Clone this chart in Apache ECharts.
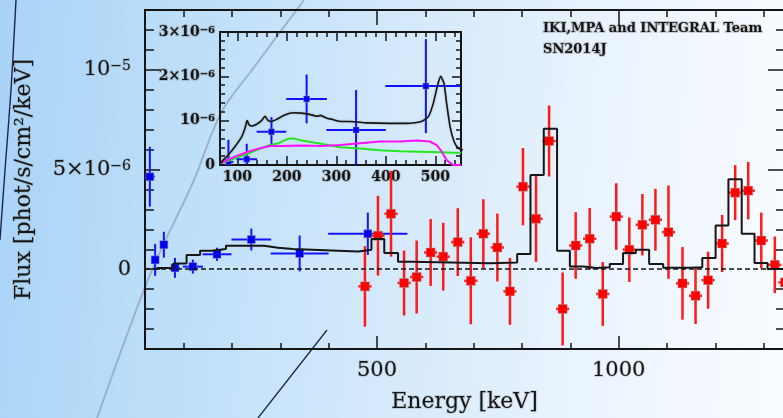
<!DOCTYPE html>
<html>
<head>
<meta charset="utf-8">
<script src="https://cdn.jsdelivr.net/npm/echarts/dist/echarts.min.js"></script>
<style>
  html, body { margin: 0; padding: 0; }
  #chart {
    width: 783px; height: 418px;
    background: linear-gradient(95deg, #a9d3f6 0%, #bcdef9 22%, #d4e9fb 50%, #eaf4fd 75%, #f9fcff 100%);
  }
</style>
</head>
<body>
<div id="chart"></div>
<script>
// SN2014J gamma-ray spectrum, fluxes in units of 1e-6 phot/s/cm2/keV

// low-energy points (blue): energy, flux, half-width, 1-sigma error
const blueEnergy = [30, 41, 59, 82, 119, 169, 240, 340, 481];
const blueFlux   = [4.64, 0.47, 1.23, 0.07, 0.13, 0.75, 1.49, 0.79, 1.78];
const blueWidth  = [10, 4, 5, 10, 21, 30, 41, 60, 82];
const blueError  = [1.5, 0.8, 0.65, 0.5, 0.35, 0.33, 0.55, 0.9, 1.06];

// high-energy points (red)
const redEnergy = [475, 502, 529, 556, 582, 611, 637, 667, 694, 720, 749, 775, 802, 829, 856, 884,
                   911, 940, 967, 995, 1022, 1049, 1076, 1103, 1132, 1159, 1185, 1214, 1241, 1268,
                   1295, 1323, 1344];
const redFlux   = [-0.86, 1.68, 2.78, -0.69, -0.39, 0.84, 0.63, 1.36, -0.58, 1.78, 1.09, -1.11, 4.14,
                   2.53, 6.43, -1.99, 1.19, 1.53, -1.24, 2.64, 0.98, 2.23, 2.48, 1.86, -0.71, -1.33,
                   -0.55, 1.29, 3.84, 3.94, 1.44, 0.22, -0.66];
const redError  = [2.02, 2.0, 2.15, 1.63, 1.83, 1.68, 1.7, 1.7, 2.18, 1.73, 1.7, 1.68, 1.94, 2.16,
                   1.78, 1.83, 1.67, 1.54, 1.6, 1.67, 1.62, 1.54, 1.55, 2.34, 1.82, 1.42, 1.43, 1.43,
                   1.38, 1.44, 1.4, 1.42, 3.0];
const redWidth = 13.6;

// binned model (histogram): bin edges and level in each bin
const modelEdges  = [44, 78.5, 106, 134, 158, 187.5, 266, 295.5, 325.5, 406, 461, 488.5, 515, 543.5,
                     571, 733.5, 790, 817.5, 845, 872.5, 899, 926.5, 954, 981.5, 1009, 1035.5, 1063,
                     1092, 1147, 1173, 1200.5, 1227, 1254.5, 1281, 1308, 1342];
const modelLevels = [0.06, 0.29, 0.72, 0.93, 1.01, 1.18, 1.08, 1.01, 0.94, 0.89, 0.98, 1.51, 0.81,
                     0.38, 0.30, 0.34, 0.77, 4.72, 7.04, 0.93, 0.14, 0.06, 0.10, 0.26, 0.81, 0.98,
                     0.26, 0.08, 0.10, 0.56, 2.19, 4.51, 1.78, 0.31, 0.01];

// inset model curves
const totalEnergy = [66, 68, 82, 95, 109, 115.5, 120, 124, 129, 139, 149, 156, 161, 168, 179.5, 196,
                     213, 230, 250, 262, 268, 280, 291, 311, 328, 361, 408, 442, 472, 486, 496, 504,
                     511, 517.6, 523, 530, 538, 546.5, 556];
const totalFlux   = [0.03, 0.07, 0.23, 0.41, 0.64, 0.83, 1.0, 0.90, 0.88, 0.92, 1.0, 1.1, 1.02, 0.98,
                     1.03, 1.13, 1.18, 1.17, 1.13, 1.10, 1.12, 1.06, 1.03, 0.98, 0.98, 0.95, 0.94,
                     0.94, 0.98, 1.09, 1.39, 1.77, 2.0, 1.84, 1.39, 0.86, 0.53, 0.38, 0.34];
const greenEnergy = [66, 95, 122, 149, 166, 183, 196, 206, 213, 227, 257, 284, 308, 348, 388, 429,
                     469, 510, 552];
const greenFlux   = [0.03, 0.15, 0.26, 0.38, 0.45, 0.49, 0.56, 0.6, 0.6, 0.56, 0.5, 0.45, 0.4, 0.37,
                     0.33, 0.31, 0.3, 0.29, 0.27];
const pinkEnergy  = [66, 95, 122, 146, 166, 190, 230, 270, 308, 348, 388, 429, 462, 489, 503, 513,
                     523, 536, 552];
const pinkFlux    = [0.04, 0.19, 0.3, 0.38, 0.43, 0.43, 0.44, 0.43, 0.45, 0.49, 0.53, 0.53, 0.55,
                     0.53, 0.45, 0.3, 0.11, 0.0, 0.0];

// tick labels
const mainEnergyTicks  = [500, 1000];
const mainFluxTicks    = [0, 5, 10];
const mainFluxBase     = ['0', '5×10', '10'];
const mainFluxExp      = ['', '−6', '−5'];
const insetEnergyTicks = [100, 200, 300, 400, 500];
const insetFluxTicks   = [0, 1, 2, 3];
const insetFluxBase    = ['0', '10', '2×10', '3×10'];
const insetFluxExp     = ['', '−6', '−6', '−6'];

const SERIF = '"DejaVu Serif", "Liberation Serif", serif';
const INK = '#151515';
const HALO = 'rgba(120,120,120,0.35)';

function zip4(a, b, c, d) {
  return a.map((v, i) => [v, b[i], Array.isArray(c) ? c[i] : c, d[i]]);
}
function pairs(a, b) { return a.map((v, i) => [v, b[i]]); }
function steps(edges, levels) {
  const pts = [];
  levels.forEach((lv, i) => { pts.push([edges[i], lv]); pts.push([edges[i + 1], lv]); });
  return pts;
}

function errorBars(barColor, fillColor, barWidth, size) {
  return function (params, api) {
    const x = api.value(0), y = api.value(1), dx = api.value(2), dy = api.value(3);
    const c = api.coord([x, y]);
    const l = api.coord([x - dx, y]), r = api.coord([x + dx, y]);
    const t = api.coord([x, y + dy]), b = api.coord([x, y - dy]);
    return {
      type: 'group',
      children: [
        { type: 'line', shape: { x1: l[0], y1: l[1], x2: r[0], y2: r[1] },
          style: { stroke: barColor, lineWidth: barWidth } },
        { type: 'line', shape: { x1: t[0], y1: t[1], x2: b[0], y2: b[1] },
          style: { stroke: barColor, lineWidth: barWidth } },
        { type: 'rect', shape: { x: c[0] - size / 2, y: c[1] - size / 2, width: size, height: size },
          style: { fill: fillColor, stroke: 'rgba(150,150,150,0.45)', lineWidth: 1 } }
      ]
    };
  };
}

function supLabel(ticks, base, exp) {
  return function (v) {
    const i = ticks.findIndex(t => Math.abs(t - v) < 1e-9);
    if (i < 0) return '';
    return exp[i] ? '{n|' + base[i] + '}{e|' + exp[i] + '}' : '{n|' + base[i] + '}';
  };
}

const mainRect  = { left: 145, top: 10, width: 639, height: 339, show: false, containLabel: false, outerBoundsMode: 'none' };
const insetRect = { left: 220, top: 32, width: 241, height: 133, show: false, containLabel: false, outerBoundsMode: 'none' };

function frameAxis(extra, lineWidth, tickLen) {
  return Object.assign({
    type: 'value',
    axisLine: { show: true, onZero: false, lineStyle: { color: INK, width: lineWidth } },
    axisTick: { show: true, inside: true, length: tickLen, lineStyle: { color: INK, width: 1.5 } },
    axisLabel: { show: false },
    splitLine: { show: false },
    nameMoveOverlap: false
  }, extra);
}

const mainLabel = {
  show: true, color: INK, fontFamily: SERIF, fontSize: 21,
  textBorderColor: HALO, textBorderWidth: 1.5
};
const insetLabel = {
  show: true, color: INK, fontFamily: SERIF, fontSize: 14, fontWeight: 'bold',
  textBorderColor: HALO, textBorderWidth: 2
};

const option = {
  animation: false,
  backgroundColor: 'transparent',
  grid: [mainRect, Object.assign({}, mainRect), insetRect, Object.assign({}, insetRect)],
  xAxis: [
    frameAxis({ gridIndex: 0, position: 'bottom', min: 20, max: 1342, splitNumber: 13 }, 2, 6),
    frameAxis({ gridIndex: 0, position: 'top', min: 20, max: 1342, splitNumber: 13 }, 2, 7),
    frameAxis({
      gridIndex: 1, position: 'bottom', min: 20, max: 1342, splitNumber: 3,
      axisLabel: Object.assign({}, mainLabel, {
        margin: 11,
        formatter: v => (mainEnergyTicks.includes(v) ? String(v) : '')
      }),
      name: 'Energy [keV]', nameLocation: 'middle', nameGap: 42,
      nameTextStyle: { color: INK, fontFamily: SERIF, fontSize: 22, textBorderColor: HALO, textBorderWidth: 1.5 }
    }, 2, 13),
    frameAxis({ gridIndex: 1, position: 'top', min: 20, max: 1342, splitNumber: 3 }, 2, 15),
    frameAxis({ gridIndex: 2, position: 'bottom', min: 65, max: 552, splitNumber: 24 }, 2, 5),
    frameAxis({ gridIndex: 2, position: 'top', min: 65, max: 552, splitNumber: 24 }, 2, 5),
    frameAxis({
      gridIndex: 3, position: 'bottom', min: 65, max: 552, splitNumber: 5,
      axisLabel: Object.assign({}, insetLabel, {
        margin: 5,
        formatter: v => (insetEnergyTicks.includes(v) ? String(v) : '')
      })
    }, 2, 9),
    frameAxis({ gridIndex: 3, position: 'top', min: 65, max: 552, splitNumber: 5 }, 2, 9)
  ],
  yAxis: [
    frameAxis({ gridIndex: 0, position: 'left', min: -4, max: 13, interval: 1 }, 2, 9),
    frameAxis({ gridIndex: 0, position: 'right', min: -4, max: 13, interval: 1 }, 2, 8),
    frameAxis({
      gridIndex: 1, position: 'left', min: -4, max: 13, splitNumber: 3,
      axisLabel: {
        show: true, margin: 14,
        formatter: supLabel(mainFluxTicks, mainFluxBase, mainFluxExp),
        rich: {
          n: { color: INK, fontFamily: SERIF, fontSize: 21, textBorderColor: HALO, textBorderWidth: 1.5 },
          e: { color: INK, fontFamily: SERIF, fontSize: 14, verticalAlign: 'top', textBorderColor: HALO, textBorderWidth: 1.5 }
        }
      },
      name: 'Flux [phot/s/cm²/keV]', nameLocation: 'middle', nameGap: 110,
      nameTextStyle: { color: INK, fontFamily: SERIF, fontSize: 22, textBorderColor: HALO, textBorderWidth: 1.5 }
    }, 2, 15),
    frameAxis({ gridIndex: 1, position: 'right', min: -4, max: 13, splitNumber: 3 }, 2, 16),
    frameAxis({ gridIndex: 2, position: 'left', min: 0, max: 3, interval: 0.2 }, 2, 5),
    frameAxis({ gridIndex: 2, position: 'right', min: 0, max: 3, interval: 0.2 }, 2, 5),
    frameAxis({
      gridIndex: 3, position: 'left', min: 0, max: 3, interval: 1,
      axisLabel: {
        show: true, margin: 5,
        formatter: supLabel(insetFluxTicks, insetFluxBase, insetFluxExp),
        rich: {
          n: { color: INK, fontFamily: SERIF, fontSize: 14, fontWeight: 'bold', textBorderColor: HALO, textBorderWidth: 2 },
          e: { color: INK, fontFamily: SERIF, fontSize: 10, fontWeight: 'bold', verticalAlign: 'top', textBorderColor: HALO, textBorderWidth: 2 }
        }
      }
    }, 2, 9),
    frameAxis({ gridIndex: 3, position: 'right', min: 0, max: 3, interval: 1 }, 2, 9)
  ],
  graphic: [
    { type: 'polyline', z: -5, silent: true,
      shape: { points: [[16, 0], [11, 90], [5, 170], [0, 240]], smooth: 0.3 },
      style: { stroke: '#1b2452', lineWidth: 1.4, fill: 'none' } },
    { type: 'polyline', z: -5, silent: true,
      shape: { points: [[304, 0], [252, 70], [221, 113], [194, 180], [160, 252], [140, 300], [97, 418]], smooth: 0.35 },
      style: { stroke: 'rgba(140,160,188,0.7)', lineWidth: 2, fill: 'none' } },
    { type: 'line', z: -5, silent: true,
      shape: { x1: 327, y1: 330, x2: 258, y2: 418 },
      style: { stroke: '#1b2452', lineWidth: 1.3 } },
    { type: 'text', left: 542, top: 21,
      style: { text: 'IKI,MPA and INTEGRAL Team', font: 'bold 13px ' + SERIF, fill: INK,
               stroke: HALO, lineWidth: 2 } },
    { type: 'text', left: 542, top: 42,
      style: { text: 'SN2014J', font: 'bold 13px ' + SERIF, fill: INK, stroke: HALO, lineWidth: 2 } }
  ],
  series: [
    {
      type: 'line', xAxisIndex: 0, yAxisIndex: 0, clip: true,
      data: steps(modelEdges, modelLevels),
      symbol: 'none', silent: true,
      lineStyle: { color: INK, width: 2 },
      markLine: {
        silent: true, symbol: ['none', 'none'], label: { show: false },
        lineStyle: { color: INK, width: 1.5, type: [5, 3] },
        data: [{ yAxis: 0 }]
      }
    },
    {
      type: 'custom', xAxisIndex: 0, yAxisIndex: 0, clip: true, silent: true,
      renderItem: errorBars('#1414ff', '#0000f0', 2, 8),
      data: zip4(blueEnergy, blueFlux, blueWidth, blueError)
    },
    {
      type: 'custom', xAxisIndex: 0, yAxisIndex: 0, clip: true, silent: true,
      renderItem: errorBars('#ff1a1a', '#ff0000', 2.5, 9),
      data: zip4(redEnergy, redFlux, redWidth, redError)
    },
    {
      type: 'line', xAxisIndex: 4, yAxisIndex: 4, clip: true, silent: true,
      data: pairs(greenEnergy, greenFlux), symbol: 'none',
      lineStyle: { color: '#22e822', width: 2 }
    },
    {
      type: 'line', xAxisIndex: 4, yAxisIndex: 4, clip: true, silent: true,
      data: pairs(pinkEnergy, pinkFlux), symbol: 'none',
      lineStyle: { color: '#ff10ff', width: 2 }
    },
    {
      type: 'line', xAxisIndex: 4, yAxisIndex: 4, clip: true, silent: true,
      data: pairs(totalEnergy, totalFlux), symbol: 'none', smooth: 0.2,
      lineStyle: { color: INK, width: 1.6, shadowColor: 'rgba(120,120,120,0.6)', shadowBlur: 2 }
    },
    {
      type: 'custom', xAxisIndex: 4, yAxisIndex: 4, clip: true, silent: true,
      renderItem: errorBars('#1010ff', '#0000f0', 2, 6),
      data: zip4(blueEnergy, blueFlux, blueWidth, blueError)
    }
  ]
};

const chart = echarts.init(document.getElementById('chart'), null, { renderer: 'canvas' });
chart.setOption(option);
</script>
</body>
</html>
